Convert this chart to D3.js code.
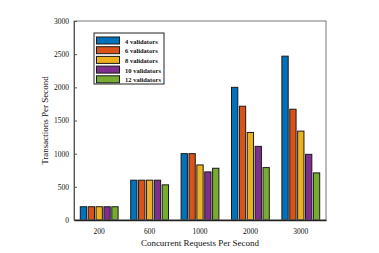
<!DOCTYPE html>
<html>
<head>
<meta charset="utf-8">
<script src="https://cdn.jsdelivr.net/npm/d3@7"></script>
<style>
  body { margin: 0; background: #fff; }
  text { font-family: "Liberation Serif", "DejaVu Serif", serif; }
</style>
</head>
<body>
<div id="chart"></div>
<script>
// chart data
var categories = ["200", "600", "1000", "2000", "3000"];
var seriesNames = ["4 validators", "6 validators", "8 validators", "10 validators", "12 validators"];
var v4 = [200, 600, 1000, 2000, 2470];
var v6 = [200, 600, 1000, 1715, 1670];
var v8 = [200, 600, 830, 1320, 1340];
var v10 = [200, 600, 725, 1110, 990];
var v12 = [200, 530, 780, 790, 710];
var yTicks = [0, 500, 1000, 1500, 2000, 2500, 3000];

var colors = ["#0072BD", "#D95319", "#EDB120", "#7E2F8E", "#77AC30"];
var series = [v4, v6, v8, v10, v12];

var svgWidth = 379;
var svgHeight = 253;
var margin = { top: 21, right: 53, bottom: 33, left: 74 };
var chartWidth = svgWidth - margin.left - margin.right;
var chartHeight = svgHeight - margin.top - margin.bottom;

var svg = d3.select("#chart")
  .append("svg")
  .attr("width", svgWidth)
  .attr("height", svgHeight);

var chartGroup = svg.append("g")
  .attr("transform", `translate(${margin.left}, ${margin.top})`);

// scales
var xScale = d3.scaleBand()
  .domain(categories)
  .range([0, chartWidth])
  .paddingInner(0.25)
  .paddingOuter(0.125);

var xInner = d3.scaleBand()
  .domain(d3.range(series.length))
  .range([0, xScale.bandwidth()])
  .paddingInner(0.2);

var yScale = d3.scaleLinear()
  .domain([0, 3000])
  .range([chartHeight, 0]);

// bars
var groups = chartGroup.selectAll(".grp")
  .data(categories)
  .join("g")
  .attr("class", "grp")
  .attr("transform", d => `translate(${xScale(d)},0)`);

groups.selectAll("rect")
  .data((d, i) => series.map((s, j) => ({ j: j, value: s[i] })))
  .join("rect")
  .attr("x", d => xInner(d.j))
  .attr("width", xInner.bandwidth())
  .attr("y", d => yScale(d.value))
  .attr("height", d => chartHeight - yScale(d.value))
  .attr("fill", d => colors[d.j])
  .attr("stroke", "#1a1a1a")
  .attr("stroke-width", 1);

// frame
chartGroup.append("rect")
  .attr("x", 0)
  .attr("y", 0)
  .attr("width", chartWidth)
  .attr("height", chartHeight)
  .attr("fill", "none")
  .attr("stroke", "#777")
  .attr("stroke-width", 1);

// axes
var leftAxis = d3.axisLeft(yScale)
  .tickValues(yTicks)
  .tickFormat(d3.format("d"))
  .tickSizeInner(-3)
  .tickSizeOuter(0)
  .tickPadding(5);

var yAxis = chartGroup.append("g")
  .call(leftAxis);
yAxis.select(".domain").attr("stroke", "#555");
yAxis.selectAll(".tick line").attr("stroke", "#555");
yAxis.selectAll("text")
  .attr("font-family", "Liberation Serif, serif")
  .attr("font-size", "7.5px")
  .attr("fill", "#111");

var bottomAxis = d3.axisBottom(xScale)
  .tickSize(0)
  .tickPadding(9);

var xAxis = chartGroup.append("g")
  .attr("transform", `translate(0, ${chartHeight})`)
  .call(bottomAxis);
xAxis.select(".domain").attr("stroke", "#222").attr("stroke-width", 1.3);
xAxis.selectAll("text")
  .attr("font-family", "Liberation Serif, serif")
  .attr("font-size", "7.5px")
  .attr("fill", "#111");

// axis titles
chartGroup.append("text")
  .attr("text-anchor", "middle")
  .attr("x", chartWidth / 2)
  .attr("y", chartHeight + 26)
  .attr("font-size", "9px")
  .attr("fill", "#111")
  .text("Concurrent Requests Per Second");

chartGroup.append("text")
  .attr("text-anchor", "middle")
  .attr("transform", "rotate(-90)")
  .attr("x", -chartHeight / 2)
  .attr("y", -26)
  .attr("font-size", "9px")
  .attr("fill", "#111")
  .text("Transactions Per Second");

// legend
var legend = chartGroup.append("g")
  .attr("transform", "translate(20, 12)");

legend.append("rect")
  .attr("width", 70)
  .attr("height", 51)
  .attr("fill", "#fff")
  .attr("stroke", "#222")
  .attr("stroke-width", 1);

var items = legend.selectAll(".item")
  .data(seriesNames)
  .join("g")
  .attr("class", "item")
  .attr("transform", (d, i) => `translate(0, ${4 + i * 9.7})`);

items.append("rect")
  .attr("x", 2.5)
  .attr("y", 0)
  .attr("width", 23)
  .attr("height", 7)
  .attr("fill", (d, i) => colors[i])
  .attr("stroke", "#1a1a1a")
  .attr("stroke-width", 1);

items.append("text")
  .attr("x", 31)
  .attr("y", 6.5)
  .attr("font-size", "6.5px")
  .attr("font-weight", "bold")
  .attr("fill", "#111")
  .text(d => d);
</script>
</body>
</html>
